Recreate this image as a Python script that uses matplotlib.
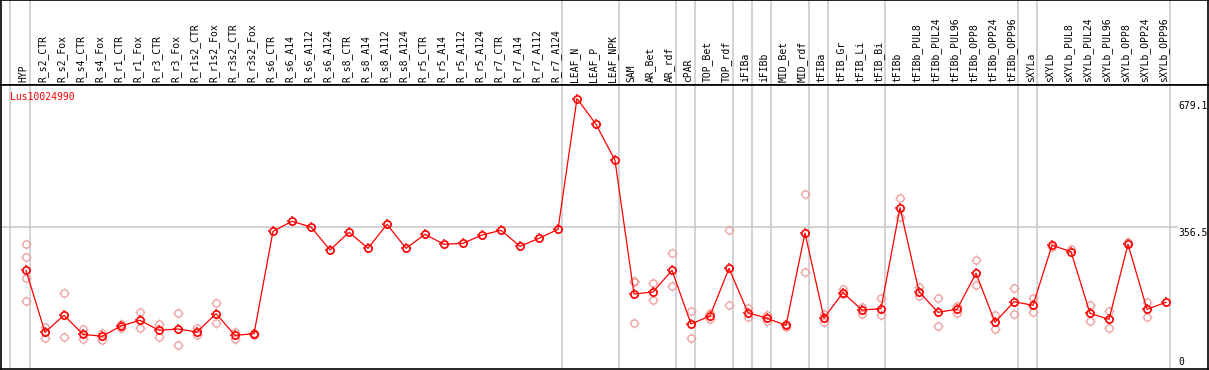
import numpy as np
import matplotlib
matplotlib.use("Agg")
import matplotlib.pyplot as plt
from matplotlib.path import Path
import matplotlib.transforms as mtransforms

# sample names, one per column
samples = ["HYP", "R_s2_CTR", "R_s2_Fox", "R_s4_CTR", "R_s4_Fox", "R_r1_CTR", "R_r1_Fox",
           "R_r3_CTR", "R_r3_Fox", "R_r1s2_CTR", "R_r1s2_Fox", "R_r3s2_CTR", "R_r3s2_Fox",
           "R_s6_CTR", "R_s6_A14", "R_s6_A112", "R_s6_A124", "R_s8_CTR", "R_s8_A14",
           "R_s8_A112", "R_s8_A124", "R_r5_CTR", "R_r5_A14", "R_r5_A112", "R_r5_A124",
           "R_r7_CTR", "R_r7_A14", "R_r7_A112", "R_r7_A124", "LEAF_N", "LEAF_P", "LEAF_NPK",
           "SAM", "AR_Bet", "AR_rdf", "cPAR", "TOP_Bet", "TOP_rdf", "iFIBa", "iFIBb",
           "MID_Bet", "MID_rdf", "tFIBa", "tFIB_Gr", "tFIB_Li", "tFIB_Bi", "tFIBb",
           "tFIBb_PUL8", "tFIBb_PUL24", "tFIBb_PUL96", "tFIBb_OPP8", "tFIBb_OPP24",
           "tFIBb_OPP96", "sXYLa", "sXYLb", "sXYLb_PUL8", "sXYLb_PUL24", "sXYLb_PUL96",
           "sXYLb_OPP8", "sXYLb_OPP24", "sXYLb_OPP96"]

# mean expression
means = [247.8, 92.1, 134.8, 87.1, 82.1, 108.0, 122.3, 97.2, 100.4, 92.9, 138.8, 84.6, 88.6,
         345.7, 370.8, 356.5, 298.8, 343.2, 303.0, 363.3, 303.0, 338.2, 313.1, 315.6, 336.4,
         348.2, 308.1, 328.1, 350.7, 679.1, 614.3, 524.0,
         188.3, 193.3, 247.8, 113.0, 133.1, 252.8, 141.3, 127.3, 109.7, 341.4, 128.0, 191.6,
         148.1, 151.4, 405.0, 194.1, 142.4, 149.9, 240.3, 117.2, 169.0, 159.9, 310.6, 294.5,
         139.8, 124.8, 313.1, 149.9, 167.5]

# individual replicates
reps = [[313.1, 280.4, 227.7, 170.7], [105.4, 78.6], [190.1, 80.3], [101.2, 76.1],
        [91.1, 72.8], [112.2, 103.7], [143.1, 102.2], [113.0, 80.3], [139.8, 60.3],
        [102.2, 85.4], [165.7, 114.7], [93.6, 76.1], [86.0, 91.0],
        [], [], [], [], [], [], [], [], [], [], [], [], [], [], [], [], [], [], [],
        [221.7, 114.7, 218.0], [215.2, 173.2], [290.5, 207.6], [144.9, 77.8], [141.3, 124.8],
        [348.2, 159.9], [152.4, 131.3], [135.6, 121.3], [113.0, 104.7], [439.4, 242.8],
        [138.8, 117.2], [201.6, 188.3], [156.4, 138.1], [179.0, 135.6], [428.6, 380.9],
        [206.6, 184.0], [177.5, 108.0], [158.2, 141.3], [272.9, 210.1], [135.6, 101.2],
        [202.6, 137.3], [177.5, 143.9], [307.0], [300.5], [160.7, 121.3], [145.6, 102.2],
        [319.6], [167.5, 131.3], []]

# last column of each sample group
group_ends = [0, 28, 31, 34, 35, 37, 38, 39, 41, 42, 45, 52, 53, 60]
gene = "Lus10024990"
ymax = 713.0
mid_tick = 356.5
top_tick = 679.1

mono = "DejaVu Sans Mono"
fs = 7

W, H = 1209, 370
fig = plt.figure(figsize=(W / 100, H / 100), dpi=100)
x0 = (1 - 26) / 19
x1 = (1208 - 26) / 19

ax_h = fig.add_axes([1 / W, (H - 85) / H, 1207 / W, 85 / H])
ax = fig.add_axes([1 / W, 1 / H, 1207 / W, 284 / H])

for a in (ax_h, ax):
    a.set_xlim(x0, x1)
    a.set_xticks([])
    a.set_yticks([])
    for s in a.spines.values():
        s.set_color("black")
        s.set_linewidth(1.2)
    a.axvline(-0.84, color="#c8c8c8", lw=1.1, zorder=0)
    for g in group_ends:
        a.axvline(g + 0.23, color="#c8c8c8", lw=1.1, zorder=0)

ax.set_ylim(0, ymax)
ax_h.set_ylim(0, 1)
ax.hlines(mid_tick, x0, 60.65, color="#c8c8c8", lw=1.1, zorder=0)

# header labels
trans = mtransforms.blended_transform_factory(ax_h.transData, ax_h.transAxes)
for i, name in enumerate(samples):
    ax_h.text(i - 0.13, 0.03, name, rotation=90, ha="center", va="bottom",
              fontsize=fs, family=mono, transform=trans)

# markers: circle plus short ticks
ticks = Path([(0, 0.68), (0, 1), (0, -0.68), (0, -1), (0.68, 0), (1, 0), (-0.68, 0), (-1, 0)],
             [Path.MOVETO, Path.LINETO] * 4)

rx = []
ry = []
for i, r in enumerate(reps):
    for v in r:
        rx.append(i)
        ry.append(v)
rc = "#f09a9a"
ax.plot(rx, ry, ls="none", marker="o", ms=5.2, mfc="none", mec=rc, mew=0.9, zorder=2)
ax.plot(rx, ry, ls="none", marker=ticks, ms=7.6, mec=rc, mew=0.9, zorder=2)

xs = np.arange(len(means))
ax.plot(xs, means, color="red", lw=0.9, zorder=3)
ax.plot(xs, means, ls="none", marker="o", ms=5.2, mfc="none", mec="red", mew=1.2, zorder=4)
ax.plot(xs, means, ls="none", marker=ticks, ms=7.8, mec="red", mew=1.1, zorder=4)

# gene name and y labels
ax.text(-0.84, 695, gene, color="red", fontsize=fs, family=mono, ha="left", va="top")
lx = (1178 - 26) / 19
ax.text(lx, top_tick - 6, f"{top_tick}", fontsize=fs, family=mono, ha="left", va="top")
ax.text(lx, mid_tick - 2, f"{mid_tick}", fontsize=fs, family=mono, ha="left", va="top")
ax.text(lx, 6, "0", fontsize=fs, family=mono, ha="left", va="bottom")

fig.savefig("out.png", dpi=100)
